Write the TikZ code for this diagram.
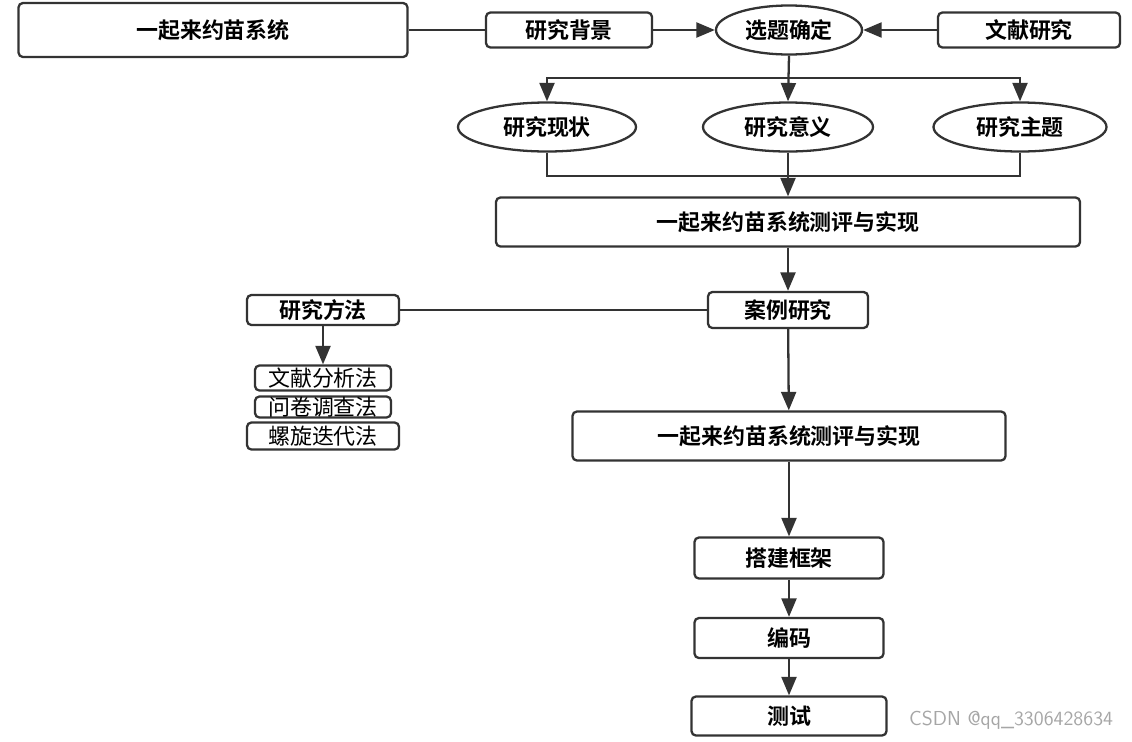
\documentclass[tikz,border=0pt]{standalone}
\usepackage{fontspec}
\setmainfont{Noto Sans CJK SC}[BoldFont={Noto Sans CJK SC Bold}]
\usepackage{tikz}
\usetikzlibrary{shapes,arrows.meta,calc}

\definecolor{linegray}{HTML}{333333}
\def\px{0.02cm}
\tikzset{
  box/.style={draw=linegray, line width=1.3pt, rounded corners=2.5pt, inner sep=0pt, font=\fontsize{12.5}{12.5}\selectfont\bfseries},
  oval/.style={ellipse, draw=linegray, line width=1.3pt, inner sep=0pt, font=\fontsize{12.5}{12.5}\selectfont\bfseries},
  small/.style={box, font=\fontsize{12.5}{12.5}\selectfont},
  link/.style={draw=linegray, line width=1.3pt},
  arr/.style={link, -{Triangle[length=10.5pt,width=8.5pt]}}
}

\begin{document}
\begin{tikzpicture}[x=0.02cm,y=-0.02cm]
\useasboundingbox (0,0) rectangle (1132,741);
% top row
\node[box, minimum width=389*\px, minimum height=54*\px] (sys) at (213,30) {一起来约苗系统};
\node[box, minimum width=166*\px, minimum height=35*\px] (bg) at (569,30) {研究背景};
\node[oval, minimum width=146*\px, minimum height=49*\px] (topic) at (789,30) {选题确定};
\node[box, minimum width=182*\px, minimum height=35*\px] (lit) at (1029,30) {文献研究};
\draw[link] (sys.east) -- (bg.west);
\draw[arr] (bg) -- (topic);
\draw[arr] (lit) -- (topic);
% three topics
\node[oval, minimum width=178*\px, minimum height=49*\px] (status) at (547,127) {研究现状};
\node[oval, minimum width=170*\px, minimum height=49*\px] (meaning) at (788,127) {研究意义};
\node[oval, minimum width=173*\px, minimum height=49*\px] (subject) at (1020,127) {研究主题};
\coordinate (split) at (789,78);
\coordinate (merge) at (789,176);
\draw[arr] (topic.south) -- (meaning.north);
\draw[arr] (split) -| (status.north);
\draw[arr] (split) -| (subject.north);
% evaluation
\node[box, minimum width=584*\px, minimum height=49*\px] (eval) at (788,222) {一起来约苗系统测评与实现};
\draw[link] (status.south) |- (merge);
\draw[link] (subject.south) |- (merge);
\draw[arr] (meaning.south) -- (eval.north);
\node[box, minimum width=160*\px, minimum height=36*\px] (case) at (788,310) {案例研究};
\draw[arr] (eval) -- (case);
% methods
\node[box, minimum width=152*\px, minimum height=30*\px] (method) at (323,310) {研究方法};
\node[small, minimum width=136*\px, minimum height=25*\px] (m1) at (323,378) {文献分析法};
\node[small, minimum width=136*\px, minimum height=21*\px] (m2) at (323,407) {问卷调查法};
\node[small, minimum width=152*\px, minimum height=27*\px] (m3) at (323,436) {螺旋迭代法};
\draw[link] (case.west) -- (method.east);
\draw[arr] (method) -- (m1);
% implementation
\node[box, minimum width=433*\px, minimum height=49*\px] (impl) at (789,436) {一起来约苗系统测评与实现};
\node[box, minimum width=189*\px, minimum height=41*\px] (frame) at (789,558) {搭建框架};
\node[box, minimum width=189*\px, minimum height=40*\px] (code) at (789,638) {编码};
\node[box, minimum width=195*\px, minimum height=39*\px] (test) at (789,716) {测试};
\draw[arr] (case) -- (impl);
\draw[arr] (impl) -- (frame);
\draw[arr] (frame) -- (code);
\draw[arr] (code) -- (test);
\node[text=gray!70, font=\fontsize{11.5}{11.5}\selectfont\sffamily, anchor=west] (mark) at (903,720) {CSDN @qq\_3306428634};
\end{tikzpicture}
\end{document}
